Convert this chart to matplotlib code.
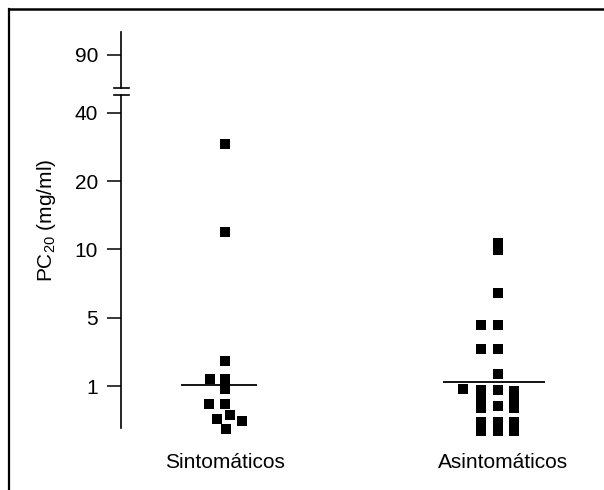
import numpy as np
import matplotlib
matplotlib.use('Agg')
import matplotlib.pyplot as plt
from matplotlib.lines import Line2D

plt.rcParams['font.family'] = ['Liberation Sans', 'DejaVu Sans']
plt.rcParams['mathtext.fontset'] = 'custom'
plt.rcParams['mathtext.rm'] = 'Liberation Sans'

groups = ['Sintomáticos', 'Asintomáticos']

# PC20 values (mg/ml)
sint = [31, 12.5, 2.45, 1.41, 1.41, 0.94, 0.66, 0.66, 0.45, 0.38, 0.34, 0.19]
sint_dx = [0, 0, 0, -0.055, 0, 0, -0.058, 0, 0.018, -0.029, 0.062, 0.004]

asint = [10.9, 9.93, 6.84, 4.59, 4.59, 3.14, 3.14, 1.70, 0.94,
         0.92, 0.76, 0.59, 0.32, 0.15,
         0.92, 0.62, 0.32, 0.15,
         0.91, 0.76, 0.59, 0.32, 0.15]
asint_dx = [0, 0, 0, -0.062, 0, -0.062, 0, 0, -0.128,
            -0.062, -0.062, -0.062, -0.062, -0.062,
            0, 0, 0, 0,
            0.059, 0.059, 0.059, 0.059, 0.059]

medians = [1.06, 1.23]
yticks = [1, 5, 10, 20, 40, 90]

# the printed axis is not linear nor log: 1, 5, 10, 20, 40 are evenly spaced
knots_v = [0.1, 1, 5, 10, 20, 40, 90, 120]
knots_p = [-0.7, 0, 1, 2, 3, 4, 4.85, 5.35]


def fwd(v):
    return np.interp(v, knots_v, knots_p)


def inv(p):
    return np.interp(p, knots_p, knots_v)


fig = plt.figure(figsize=(6.04, 4.90), dpi=100)
ax = fig.add_axes([121/604, 62/490, 479/604, 396/490])
ax.set_yscale('function', functions=(fwd, inv))
ax.set_ylim(0.21, 110)
ax.set_xlim(0.619, 2.374)

ax.plot(1 + np.array(sint_dx), sint, 's', color='black', ms=7.6, mew=0, clip_on=False)
ax.plot(2 + np.array(asint_dx), asint, 's', color='black', ms=7.6, mew=0, clip_on=False)

ax.hlines(medians[0], 1 - 0.161, 1 + 0.117, color='black', lw=1.3)
ax.hlines(medians[1], 2 - 0.2, 2 + 0.172, color='black', lw=1.3)

for s in ['top', 'right', 'bottom']:
    ax.spines[s].set_visible(False)
ax.spines['left'].set_bounds(0.21, 55)
ax.spines['left'].set_linewidth(1.2)

# upper part of the broken axis and the break marks
tr = ax.get_yaxis_transform()
ax.plot([0, 0], [61, 110], transform=tr, color='black', lw=1.2, clip_on=False)
for yb in (55, 61):
    ax.plot([-0.015, 0.017], [yb, yb], transform=tr, color='black', lw=1.2, clip_on=False)

ax.set_yticks(yticks)
ax.set_yticklabels([str(t) for t in yticks])
ax.minorticks_off()
ax.tick_params(axis='y', direction='out', length=10, width=1.1, pad=6.5, labelsize=15)
ax.set_xticks([1, 2.02])
ax.set_xticklabels(groups)
ax.tick_params(axis='x', length=0, pad=18, labelsize=15)

fig.text(47/604, 1 - 220/490, 'PC$_{20}$ (mg/ml)', rotation=90,
         ha='center', va='center', fontsize=15)

# frame of the scanned figure (top and left edges only)
fig.add_artist(Line2D([9/604, 1], [1 - 9/490, 1 - 9/490], transform=fig.transFigure,
                      color='black', lw=1.8))
fig.add_artist(Line2D([9/604, 9/604], [0, 1 - 9/490], transform=fig.transFigure,
                      color='black', lw=1.6))

fig.savefig('out.png', dpi=100)
